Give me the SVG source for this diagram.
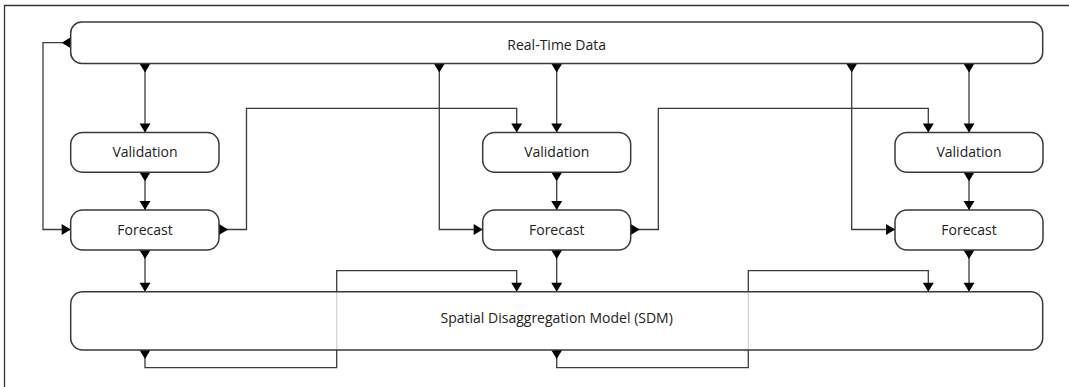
<svg xmlns="http://www.w3.org/2000/svg" width="1069" height="387" viewBox="0 0 1069 387">
<style>
.bg{fill:#fff}
.frame{fill:none;stroke:#333;stroke-width:1.3}
.node rect{fill:#fff;stroke:#3a3a3a;stroke-width:1.5}
.node.sdm rect{fill-opacity:0.78}
.node text{font-family:"Open Sans","DejaVu Sans",sans-serif;font-size:14px;fill:#222;text-anchor:middle}
.conn path{fill:none;stroke:#3c3c3c;stroke-width:1.3;marker-start:url(#ms);marker-end:url(#me)}
</style>
<defs>
<marker id="ms" markerUnits="userSpaceOnUse" markerWidth="12" markerHeight="12" viewBox="0 -6 10 12" refX="0" refY="0" orient="auto" overflow="visible">
<path d="M0,-5.5 L9,0 L0,5.5 Z" fill="#000"/>
</marker>
<marker id="me" markerUnits="userSpaceOnUse" markerWidth="12" markerHeight="12" viewBox="0 -6 10 12" refX="9" refY="0" orient="auto" overflow="visible">
<path d="M0,-5.5 L9,0 L0,5.5 Z" fill="#000"/>
</marker>
</defs>
<rect class="bg" x="0" y="0" width="1069" height="387"/>
<path class="frame" d="M4.5,387 V5.5 H1069"/>
<g id="connectors" class="conn">
<path d="M70.7,42.7 H43 V229.5 H70.7"/>
<path d="M145,63.5 V132.5"/>
<path d="M145,172.3 V210"/>
<path d="M219,229.5 H246.5 V108.3 H516.7 V132.5"/>
<path d="M145,250 V291.7"/>
<path d="M145,350 V367.7 H336.7 V270.7 H516.7 V291.7"/>
<path d="M439.3,63.5 V229.5 H482.7"/>
<path d="M556.7,63.5 V132.5"/>
<path d="M556.7,172.3 V210"/>
<path d="M630.7,229.5 H658.3 V108.3 H928.3 V132.5"/>
<path d="M556.7,250 V291.7"/>
<path d="M556.7,350 V367.7 H748.3 V270.7 H928.3 V291.7"/>
<path d="M851.7,63.5 V229.5 H895"/>
<path d="M969,63.5 V132.5"/>
<path d="M969,172.3 V210"/>
<path d="M969,250 V291.7"/>
</g>
<g id="realtime" class="node">
<rect x="70.7" y="22" width="972" height="41.5" rx="11" ry="11"/>
<text x="556.7" y="50">Real-Time Data</text>
</g>
<g id="validation1" class="node">
<rect x="70.7" y="132.5" width="148.3" height="39.8" rx="12" ry="12"/>
<text x="145" y="156.5">Validation</text>
</g>
<g id="forecast1" class="node">
<rect x="70.7" y="210" width="148.3" height="40" rx="12" ry="12"/>
<text x="145" y="234.5">Forecast</text>
</g>
<g id="validation2" class="node">
<rect x="482.7" y="132.5" width="148" height="39.8" rx="12" ry="12"/>
<text x="556.7" y="156.5">Validation</text>
</g>
<g id="forecast2" class="node">
<rect x="482.7" y="210" width="148" height="40" rx="12" ry="12"/>
<text x="556.7" y="234.5">Forecast</text>
</g>
<g id="validation3" class="node">
<rect x="895" y="132.5" width="148" height="39.8" rx="12" ry="12"/>
<text x="969" y="156.5">Validation</text>
</g>
<g id="forecast3" class="node">
<rect x="895" y="210" width="148" height="40" rx="12" ry="12"/>
<text x="969" y="234.5">Forecast</text>
</g>
<g id="sdm" class="node sdm">
<rect x="70.7" y="291.7" width="972" height="58.3" rx="12" ry="12"/>
<text x="556.7" y="322.5">Spatial Disaggregation Model (SDM)</text>
</g>
</svg>
